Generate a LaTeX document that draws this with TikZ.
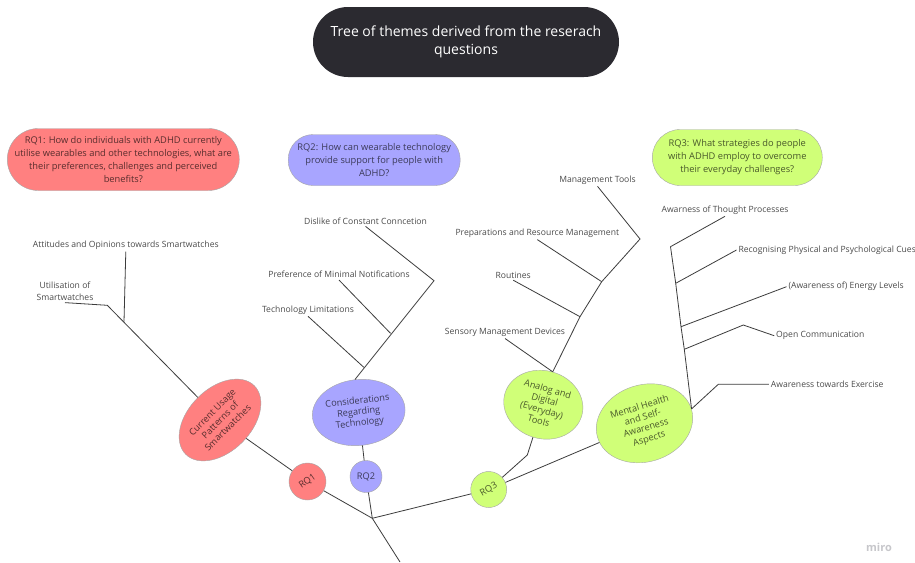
\documentclass[tikz,border=0pt]{standalone}
\usepackage{fontspec}
\setmainfont{Open Sans}
\usepackage{tikz}
\usetikzlibrary{shapes.geometric,calc}
\definecolor{miroblack}{RGB}{43,42,48}
\definecolor{rqred}{RGB}{255,128,128}
\definecolor{rqviolet}{RGB}{168,165,255}
\definecolor{rqlime}{RGB}{208,255,120}
\definecolor{linegray}{RGB}{60,60,60}
\definecolor{labelgray}{RGB}{75,75,75}

\begin{document}
\begin{tikzpicture}[x=1pt,y=-1pt,
    branch/.style={linegray,line width=0.8pt},
    theme/.style={font=\fontsize{8.6}{11.6}\selectfont,text=labelgray,inner sep=1.8pt,align=center},
    question/.style={draw=gray!70,align=center,inner sep=0pt,font=\fontsize{9.3}{13}\selectfont},
    bubble/.style={ellipse,draw=gray!70,inner sep=0pt,align=center,font=\fontsize{9.2}{11}\selectfont},
    rqdot/.style={circle,draw=gray!70,inner sep=0pt,font=\fontsize{9.2}{10}\selectfont}]
    \useasboundingbox (0,0) rectangle (915,562);
    \fill[white] (0,0) rectangle (915,562);

    % Title
    \node[fill=miroblack,text=white,rounded corners=35pt,minimum width=306pt,minimum height=70pt,
        align=center,font=\fontsize{14}{18.4}\selectfont] (title) at (466,42)
        {Tree of themes derived from the reserach\\questions};

    % Research questions
    \node[question,fill=rqred,text=rqred!35!black,minimum width=232pt,minimum height=62pt,rounded corners=31pt]
        (q1) at (123.3,159.5) {RQ1: How do individuals with ADHD currently\\utilise wearables and other technologies, what are\\their preferences, challenges and perceived\\benefits?};
    \node[question,fill=rqviolet,text=rqviolet!35!black,minimum width=172pt,minimum height=51pt,rounded corners=25pt]
        (q2) at (374.2,160) {RQ2: How can wearable technology\\provide support for people with\\ADHD?};
    \node[question,fill=rqlime,text=rqlime!35!black,minimum width=170pt,minimum height=56pt,rounded corners=28pt]
        (q3) at (737.3,157.5) {RQ3: What strategies do people\\with ADHD employ to overcome\\their everyday challenges?};

    % RQ circles
    \node[rqdot,fill=rqred,text=rqred!35!black,minimum size=37pt,rotate=35] (rq1) at (307.5,481.5) {RQ1};
    \node[rqdot,fill=rqviolet,text=rqviolet!35!black,minimum size=32pt] (rq2) at (366,476.5) {RQ2};
    \node[rqdot,fill=rqlime,text=rqlime!35!black,minimum size=36pt,rotate=30] (rq3) at (488.7,489.5) {RQ3};

    % Theme bubbles
    \node[bubble,fill=rqred,text=rqred!35!black,minimum width=97pt,minimum height=63pt,rotate=45]
        (cu) at (220,420) {Current Usage\\Patterns of\\Smartwatches};
    \node[bubble,fill=rqviolet,text=rqviolet!35!black,minimum width=93pt,minimum height=66pt,rotate=6.5]
        (crt) at (358.7,412.5) {Considerations\\Regarding\\Technology};
    \node[bubble,fill=rqlime,text=rqlime!35!black,minimum width=80pt,minimum height=68pt,rotate=-16]
        (adt) at (543.3,404.7) {Analog and\\Digital\\(Everyday)\\Tools};
    \node[bubble,fill=rqlime,text=rqlime!35!black,minimum width=98pt,minimum height=77pt,rotate=17]
        (mha) at (644.5,423.3) {Mental Health\\and Self-\\Awareness\\Aspects};

    % Sub-themes
    \node[theme] (att) at (125.8,245.3) {Attitudes and Opinions towards Smartwatches};
    \node[theme] (util) at (65,291.5) {Utilisation of\\Smartwatches};
    \node[theme] (dis) at (365.5,221) {Dislike of Constant Conncetion};
    \node[theme] (pref) at (339,274.7) {Preference of Minimal Notifications};
    \node[theme] (tech) at (308,310) {Technology Limitations};
    \node[theme] (mt) at (597.5,180) {Management Tools};
    \node[theme] (prep) at (537.3,233.3) {Preparations and Resource Management};
    \node[theme] (rout) at (513.2,275) {Routines};
    \node[theme] (sens) at (505,332.3) {Sensory Management Devices};
    \node[theme] (aw) at (725,210) {Awarness of Thought Processes};
    \node[theme,anchor=west] (rec) at (736.5,250) {Recognising Physical and Psychological Cues};
    \node[theme,anchor=west] (en) at (786.5,286.7) {(Awareness of) Energy Levels};
    \node[theme,anchor=west] (oc) at (774.2,335.7) {Open Communication};
    \node[theme,anchor=west] (ex) at (768.9,384.3) {Awareness towards Exercise};

    % Junctions
    \coordinate (root) at (372.3,518.3);
    \coordinate (base) at (400,562);
    \coordinate (u1) at (107.3,305.3);
    \coordinate (a1) at (124,321.7);
    \coordinate (c1) at (434,280.7);
    \coordinate (c2) at (390.5,333.3);
    \coordinate (c3) at (363.8,367.3);
    \coordinate (k1) at (640,239);
    \coordinate (k2) at (601.7,281.7);
    \coordinate (k3) at (580,316.7);
    \coordinate (b3) at (527.3,455);
    \coordinate (m1) at (670.5,246.7);
    \coordinate (m2) at (675.7,283.3);
    \coordinate (m3) at (681,326.7);
    \coordinate (m4) at (684.3,349.3);
    \coordinate (o1) at (743.3,325);
    \coordinate (e1) at (718.3,384.3);

    % Trunk
    \draw[branch] (rq1) -- (root) -- (base);
    \draw[branch] (rq2) -- (root);
    \draw[branch] (root) -- (rq3);

    % RQ1 branch
    \draw[branch] (cu) -- (rq1);
    \draw[branch] (util.south) -- (u1) -- (cu);
    \draw[branch] (att.south) -- (a1);

    % RQ2 branch
    \draw[branch] (crt) -- (rq2);
    \draw[branch] (dis.south) -- (c1) -- (crt.north);
    \draw[branch] (pref.south) -- (c2);
    \draw[branch] (tech.south) -- (c3);

    % RQ3 branch
    \draw[branch] (rq3) -- (b3) -- (adt);
    \draw[branch] (rq3) -- (mha);
    \draw[branch] (mt.south) -- (k1) -- (k2) -- (k3) -- (adt.north);
    \draw[branch] (prep.south) -- (k2);
    \draw[branch] (rout.south) -- (k3);
    \draw[branch] (sens.south) -- (adt.north);
    \draw[branch] (aw.south) -- (m1) -- (m2) -- (m3) -- (m4) -- (mha.east);
    \draw[branch] (rec.west) -- (m2);
    \draw[branch] (en.west) -- (m3);
    \draw[branch] (oc.west) -- (o1) -- (m4);
    \draw[branch] (ex.west) -- (e1) -- (mha.east);

    % Watermark
    \node[text=blue!8!black!22,font=\fontsize{11}{11}\selectfont\bfseries] (miro) at (879,547) {miro};
\end{tikzpicture}
\end{document}
